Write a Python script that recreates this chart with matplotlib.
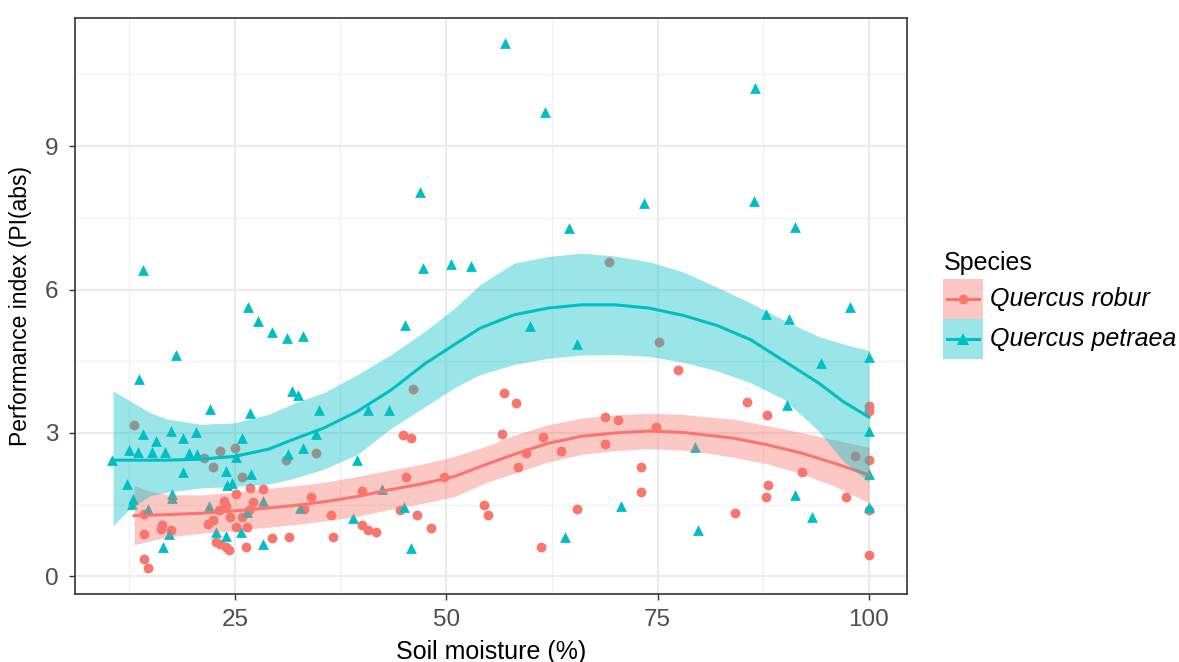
import matplotlib

matplotlib.use("Agg")
import matplotlib.pyplot as plt
from matplotlib.patches import Rectangle

# Raw measurements: soil moisture (%) vs performance index
robur_x = [13.1, 23.2, 21.4, 22.4, 25.0, 25.8, 31.1, 26.8, 28.3, 25.2, 23.7, 23.9,
           23.1, 27.1, 26.7, 24.4, 25.9, 14.3, 22.4, 21.8, 25.1, 26.5, 16.4, 16.3,
           17.5, 14.3, 22.8, 23.3, 23.9, 24.3, 26.3, 29.4, 31.4, 14.3, 14.7,
           44.9, 45.8, 56.6, 45.3, 49.7, 40.1, 34.0, 33.2, 44.5, 46.5, 36.4, 54.5,
           54.9, 40.1, 40.8, 41.7, 48.2, 36.6, 46.1, 34.6,
           56.8, 58.3, 61.4, 59.4, 58.5, 63.6, 68.8, 70.3, 74.8, 68.8, 73.0, 73.0,
           65.5, 61.2, 69.3, 75.2, 77.4,
           85.6, 88.0, 92.1, 88.1, 87.8, 84.2, 97.3, 100, 100, 100, 100, 100, 98.3]
robur_y = [3.16, 2.63, 2.47, 2.29, 2.69, 2.07, 2.44, 1.85, 1.83, 1.72, 1.58, 1.48,
           1.38, 1.55, 1.38, 1.25, 1.24, 1.31, 1.17, 1.10, 1.04, 1.04, 1.08, 0.99,
           0.97, 0.89, 0.71, 0.67, 0.61, 0.56, 0.61, 0.80, 0.83, 0.37, 0.18,
           2.96, 2.90, 2.98, 2.07, 2.07, 1.79, 1.65, 1.41, 1.39, 1.29, 1.29, 1.50,
           1.29, 1.08, 0.97, 0.92, 1.01, 0.83, 3.91, 2.59,
           3.84, 3.62, 2.92, 2.58, 2.29, 2.63, 3.33, 3.26, 3.12, 2.76, 2.29, 1.76,
           1.40, 0.61, 6.57, 4.91, 4.31,
           3.65, 3.37, 2.19, 1.90, 1.65, 1.32, 1.65, 3.56, 3.46, 2.44, 1.39, 0.44, 2.52]

petraea_x = [10.5, 13.7, 22.1, 26.8, 31.8, 32.5, 14.1, 15.7, 17.5, 18.9, 20.4, 25.9,
             12.5, 13.6, 15.2, 16.8, 19.6, 20.5, 25.2, 18.9, 23.9, 26.9, 12.3, 24.7,
             24.1, 31.3, 33.1, 13.0, 12.9, 17.6, 17.6, 14.7, 22.0, 26.5, 28.3, 22.8,
             24.0, 25.7, 17.2, 16.5, 28.3, 32.7,
             34.9, 40.7, 43.2, 34.6, 39.5, 42.4, 45.0, 39.0, 45.8,
             70.7, 64.0, 79.4, 79.8, 90.3, 91.2, 93.3, 100, 100, 100,
             46.9, 14.2, 47.2, 50.6, 52.9, 26.6, 27.7, 29.4, 31.2, 33.1, 45.1, 18.0,
             57.0, 61.7, 86.5, 73.4, 86.4, 64.5, 91.3, 97.8, 87.8, 90.6, 94.3, 100,
             59.9, 65.5]
petraea_y = [2.44, 4.12, 3.51, 3.41, 3.87, 3.79, 2.97, 2.83, 3.04, 2.90, 3.01, 2.90,
             2.65, 2.61, 2.61, 2.61, 2.59, 2.55, 2.49, 2.19, 2.21, 2.15, 1.93, 1.96,
             1.90, 2.55, 2.68, 1.62, 1.51, 1.72, 1.63, 1.40, 1.48, 1.34, 1.57, 0.92,
             0.85, 0.92, 0.88, 0.61, 0.68, 1.43,
             3.47, 3.47, 3.47, 2.97, 2.44, 1.83, 1.46, 1.22, 0.60,
             1.48, 0.82, 2.71, 0.96, 3.58, 1.71, 1.25, 3.05, 2.14, 1.45,
             8.03, 6.41, 6.46, 6.53, 6.49, 5.63, 5.35, 5.12, 4.99, 5.02, 5.26, 4.62,
             11.15, 9.72, 10.22, 7.81, 7.85, 7.28, 7.31, 5.63, 5.49, 5.38, 4.46, 4.58,
             5.24, 4.85]

# Loess fits with 95% confidence bands
robur_fit_x = [13.1, 15, 17, 21, 25, 29, 33, 36, 39.5, 43, 47, 51, 55, 58, 62, 66,
               70, 74, 78, 80, 84, 88, 92, 96, 100]
robur_fit = [1.27, 1.28, 1.29, 1.32, 1.37, 1.43, 1.50, 1.57, 1.67, 1.80, 1.93, 2.09,
             2.36, 2.55, 2.78, 2.93, 3.00, 3.04, 3.01, 2.97, 2.89, 2.75, 2.58, 2.36, 2.12]
robur_upper = [1.90, 1.78, 1.71, 1.70, 1.76, 1.84, 1.91, 1.98, 2.09, 2.21, 2.34, 2.51,
               2.74, 2.95, 3.17, 3.31, 3.38, 3.41, 3.39, 3.35, 3.29, 3.15, 3.01, 2.85, 2.70]
robur_lower = [0.66, 0.74, 0.82, 0.90, 0.96, 1.03, 1.10, 1.17, 1.25, 1.39, 1.52, 1.67,
               1.98, 2.15, 2.39, 2.55, 2.63, 2.67, 2.64, 2.60, 2.49, 2.35, 2.15, 1.88, 1.54]

petraea_fit_x = [10.6, 12.5, 15, 17, 21, 25, 29, 32, 35.5, 39.5, 43.5, 47.5, 51, 54,
                 58, 62, 66, 70, 74, 78, 82, 86, 90, 94, 97, 100]
petraea_fit = [2.43, 2.43, 2.43, 2.43, 2.45, 2.51, 2.66, 2.87, 3.10, 3.45, 3.90, 4.45,
               4.85, 5.19, 5.47, 5.61, 5.68, 5.68, 5.61, 5.46, 5.25, 4.95, 4.50, 4.05,
               3.65, 3.33]
petraea_upper = [3.88, 3.68, 3.42, 3.29, 3.18, 3.21, 3.39, 3.62, 3.84, 4.22, 4.64, 5.13,
                 5.61, 6.10, 6.55, 6.69, 6.76, 6.70, 6.58, 6.37, 6.05, 5.72, 5.35, 5.02,
                 4.86, 4.72]
petraea_lower = [1.06, 1.40, 1.69, 1.76, 1.85, 1.88, 1.93, 2.05, 2.24, 2.55, 3.10, 3.55,
                 3.95, 4.22, 4.43, 4.56, 4.63, 4.64, 4.60, 4.48, 4.30, 4.05, 3.70, 3.05,
                 2.40, 1.97]

species = ["Quercus robur", "Quercus petraea"]
RED = "#F8766D"
CYAN = "#00BFC4"
W, H = 1179, 662

plt.rcParams["font.family"] = ["Liberation Sans", "DejaVu Sans"]

fig = plt.figure(figsize=(W / 100, H / 100), dpi=100)
ax = fig.add_axes([75 / W, 1 - 594 / H, 832 / W, 576 / H])

ax.scatter(robur_x, robur_y, s=50, marker="o", color=RED, linewidths=0, zorder=2)
ax.scatter(petraea_x, petraea_y, s=60, marker="^", color=CYAN, linewidths=0, zorder=2)

ax.fill_between(robur_fit_x, robur_lower, robur_upper, color=RED, alpha=0.4,
                linewidth=0, zorder=3)
ax.plot(robur_fit_x, robur_fit, color=RED, lw=2.2, zorder=3)
ax.fill_between(petraea_fit_x, petraea_lower, petraea_upper, color=CYAN, alpha=0.4,
                linewidth=0, zorder=3)
ax.plot(petraea_fit_x, petraea_fit, color=CYAN, lw=2.2, zorder=3)

ax.set_xlim(6.1, 104.5)
ax.set_ylim(-0.37, 11.68)
ax.set_xticks([25, 50, 75, 100])
ax.set_yticks([0, 3, 6, 9])
ax.set_xticks([12.5, 37.5, 62.5, 87.5], minor=True)
ax.set_yticks([1.5, 4.5, 7.5, 10.5], minor=True)

ax.grid(True, which="major", color="#EBEBEB", lw=1.5, zorder=0)
ax.grid(True, which="minor", color="#F0F0F0", lw=0.9, zorder=0)
ax.set_axisbelow(True)
ax.tick_params(which="major", length=4.5, width=1, color="#333333",
               labelsize=17.5, labelcolor="#4D4D4D")
ax.tick_params(axis="y", pad=7.5)
ax.tick_params(axis="x", pad=6)
ax.tick_params(which="minor", length=0)
for spine in ax.spines.values():
    spine.set_color("#333333")
    spine.set_linewidth(1.2)

ax.set_xlabel("Soil moisture (%)", fontsize=18, labelpad=7)
ax.set_ylabel("Performance index (PI(abs)", fontsize=16.5, labelpad=9)

# Legend: fill key with the fit line and marker on top, one box per species
key_ax = fig.add_axes([943 / W, 1 - 359 / H, 40 / W, 80 / H])
key_ax.set_xlim(0, 1)
key_ax.set_ylim(0, 2)
key_ax.axis("off")
for i, (colour, marker, size) in enumerate([(RED, "o", 7), (CYAN, "^", 8)]):
    y0 = 1 - i
    key_ax.add_patch(Rectangle((0, y0), 1, 1, facecolor=colour, alpha=0.4,
                               linewidth=0))
    key_ax.plot([0.1, 0.9], [y0 + 0.5, y0 + 0.5], color=colour, lw=2.2)
    key_ax.plot([0.5], [y0 + 0.5], color=colour, marker=marker, markersize=size,
                markeredgewidth=0)
    fig.text(990 / W, 1 - (299 + 40 * i) / H, species[i], fontsize=18,
             style="italic", va="center", ha="left")
fig.text(944 / W, 1 - 263 / H, "Species", fontsize=18, va="center", ha="left")

fig.savefig("out.png", dpi=100)
